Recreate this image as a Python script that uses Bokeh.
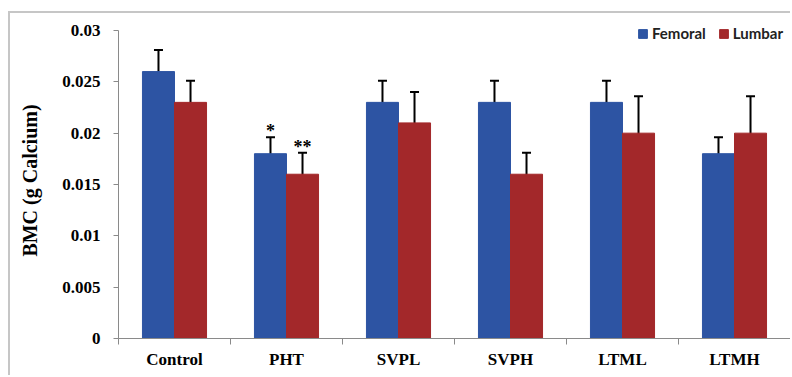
from bokeh.plotting import figure
from bokeh.models import (ColumnDataSource, Range1d, FixedTicker, Whisker, TeeHead,
                          Legend, LegendItem)
from bokeh.core.properties import value
from bokeh.embed import file_html
from bokeh.resources import INLINE

categories = ["Control", "PHT", "SVPL", "SVPH", "LTML", "LTMH"]
femoral = [0.026, 0.018, 0.023, 0.023, 0.023, 0.018]
lumbar = [0.023, 0.016, 0.021, 0.016, 0.020, 0.020]
femoral_err = [0.0021, 0.0016, 0.0021, 0.0021, 0.0021, 0.0016]
lumbar_err = [0.0021, 0.0021, 0.0030, 0.0021, 0.0036, 0.0036]
femoral_marks = ["", "*", "", "", "", ""]
lumbar_marks = ["", "**", "", "", "", ""]
y_ticks = [0, 0.005, 0.01, 0.015, 0.02, 0.025, 0.03]
y_tick_labels = ["0", "0.005", "0.01", "0.015", "0.02", "0.025", "0.03"]

BLUE = "#2D54A3"
RED = "#A3282A"
BAR_W = 0.286
DODGE = 0.143

idx = list(range(len(categories)))
centers = [i + 0.5 for i in idx]

def make_src(vals, errs, marks, shift):
    xs = [c + shift for c in centers]
    return ColumnDataSource(dict(
        x=xs, top=vals,
        upper=[v + e for v, e in zip(vals, errs)],
        lower=[v - e for v, e in zip(vals, errs)],
        mark=marks,
    ))

src_f = make_src(femoral, femoral_err, femoral_marks, -DODGE)
src_l = make_src(lumbar, lumbar_err, lumbar_marks, DODGE)

y_top = y_ticks[-1] * 316 / 308

p = figure(width=782, height=364, output_backend="svg", toolbar_location=None,
           x_range=Range1d(0, len(categories)), y_range=Range1d(0, y_top),
           min_border_left=108, min_border_right=2, min_border_top=9,
           min_border_bottom=39)
p.styles = {"border-top": "2px solid #c6c6c6", "border-left": "2px solid #c6c6c6",
            "margin-top": "11px", "margin-left": "8px"}
p.outline_line_color = None
p.xgrid.visible = False
p.ygrid.visible = False
p.background_fill_color = "white"
p.border_fill_color = "white"

rf = p.vbar(x="x", top="top", width=BAR_W, bottom=0, source=src_f,
            fill_color=BLUE, line_color=BLUE)
rl = p.vbar(x="x", top="top", width=BAR_W, bottom=0, source=src_l,
            fill_color=RED, line_color=RED)

for src in (src_f, src_l):
    w = Whisker(base="x", upper="upper", lower="lower", source=src,
                line_color="black", line_width=2,
                upper_head=TeeHead(size=9, line_color="black", line_width=2),
                lower_head=TeeHead(size=9, line_color="black", line_width=2))
    p.add_layout(w)
    p.text(x="x", y="upper", text="mark", source=src,
           text_font=value("Liberation Serif"), text_font_style="bold",
           text_font_size="18px", text_align="center", text_baseline="middle",
           y_offset=-6, text_color="black")

# axes
yax = p.yaxis[0]
yax.ticker = FixedTicker(ticks=y_ticks)
yax.bounds = (y_ticks[0], y_ticks[-1])
yax.major_label_overrides = {t: l for t, l in zip(y_ticks, y_tick_labels)}
yax.major_label_text_font = "Liberation Serif"
yax.major_label_text_font_style = "bold"
yax.major_label_text_font_size = "17px"
yax.major_label_text_color = "black"
yax.major_tick_in = 0
yax.major_tick_out = 5
yax.minor_tick_line_color = None
yax.axis_line_color = "#8a8a8a"
yax.major_tick_line_color = "#8a8a8a"
yax.major_label_standoff = 13
yax.axis_label = "BMC (g Calcium)"
yax.axis_label_text_font = "Liberation Serif"
yax.axis_label_text_font_style = "bold"
yax.axis_label_text_font_size = "20px"
yax.axis_label_text_color = "black"
yax.axis_label_standoff = 18

xax = p.xaxis[0]
xax.ticker = FixedTicker(ticks=centers, minor_ticks=list(range(len(categories) + 1)))
xax.major_label_overrides = {c: n for c, n in zip(centers, categories)}
xax.major_label_text_font = "Liberation Serif"
xax.major_label_text_font_style = "bold"
xax.major_label_text_font_size = "17px"
xax.major_label_text_color = "black"
xax.major_tick_line_color = None
xax.major_tick_in = 0
xax.major_tick_out = 0
xax.minor_tick_in = 0
xax.minor_tick_out = 6
xax.minor_tick_line_color = "#8a8a8a"
xax.axis_line_color = "#8a8a8a"
xax.major_label_standoff = 5

legend = Legend(items=[LegendItem(label="Femoral", renderers=[rf]),
                       LegendItem(label="Lumbar", renderers=[rl])],
                orientation="horizontal", location=(519, 296),
                padding=0, margin=0, spacing=12, label_standoff=4,
                glyph_width=11, glyph_height=11, label_height=18,
                label_text_font="Lato", label_text_font_style="bold",
                label_text_font_size="15px", label_text_color="#222222",
                border_line_color=None, background_fill_alpha=0)
p.add_layout(legend, "center")

open("out.html", "w").write(file_html(p, INLINE))
